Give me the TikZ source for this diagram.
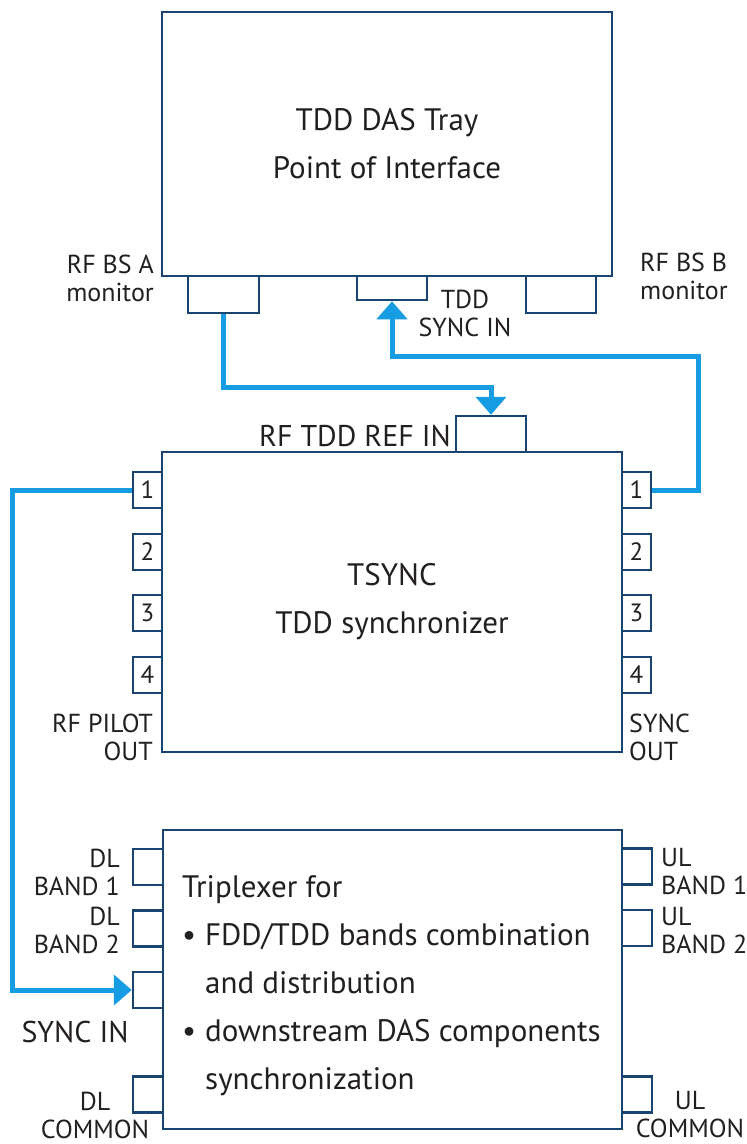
\documentclass[tikz,border=0pt]{standalone}
\usepackage{fontspec}
\setmainfont{PT Sans}
\definecolor{boxblue}{RGB}{24,68,112}
\definecolor{linkblue}{RGB}{22,156,226}
\definecolor{txtgray}{RGB}{35,31,32}
\usetikzlibrary{arrows.meta,positioning,calc}

\begin{document}
\begin{tikzpicture}[x=1pt, y=-1pt,
    unitbox/.style={rectangle, draw=boxblue, line width=2.5pt, fill=white,
                    inner sep=0pt, align=center, text=txtgray,
                    font=\fontsize{31}{48}\selectfont},
    port/.style={rectangle, draw=boxblue, line width=2.5pt, fill=white,
                 inner sep=0pt, text=txtgray, font=\fontsize{25}{26}\selectfont},
    sideport/.style={port, minimum width=29pt, minimum height=36pt},
    lbl/.style={inner sep=0pt, text=txtgray, font=\fontsize{26}{28}\selectfont},
    biglbl/.style={lbl, font=\fontsize{30}{34}\selectfont},
    link/.style={linkblue, line width=5pt,
                 -{Triangle[width=30pt, length=18pt]}}
  ]
    \useasboundingbox (0,0) rectangle (747,1144);

    % Tray / Point of Interface
    \node[unitbox, minimum width=450pt, minimum height=264pt] (poi) at (387,144)
      {TDD DAS Tray\\Point of Interface};
    \node[port, minimum width=71pt, minimum height=37pt] (bsA)     at (223.5,294.5) {};
    \node[port, minimum width=70pt, minimum height=24pt] (tddsync) at (392,288) {};
    \node[port, minimum width=70pt, minimum height=37pt] (bsB)     at (561,294.5) {};
    \node[lbl, align=right, anchor=east] (lbsA) at (154,278) {RF BS A\\monitor};
    \node[lbl, align=left,  anchor=west] (lbsB) at (640,276) {RF BS B\\monitor};
    \node[lbl, align=center] (lsync) at (465,313) {TDD\\SYNC IN};

    % TSYNC synchronizer
    \node[unitbox, minimum width=460pt, minimum height=300pt] (tsync) at (392,602)
      {TSYNC\\TDD synchronizer};
    \node[port, minimum width=70pt, minimum height=36pt] (refin) at (491,434) {};
    \node[biglbl, anchor=east] (lrefin) at (451,436) {RF TDD REF IN};
    \foreach \n/\y in {1/490, 2/552, 3/613, 4/675} {
      \node[sideport] (sL\n) at (147.5,\y) {\n};
      \node[sideport] (sR\n) at (636.5,\y) {\n};
    }
    \node[lbl, align=right, anchor=east] (lpilot) at (153,737) {RF PILOT\\OUT};
    \node[lbl, align=left,  anchor=west] (lsout)  at (629,737) {SYNC\\OUT};

    % Triplexer
    \node[unitbox, minimum width=459pt, minimum height=299pt] (trip) at (392.5,979.5) {};
    \node[inner sep=0pt, anchor=base west, align=left, text=txtgray,
          font=\fontsize{31}{48}\selectfont] (triptxt) at (182,1089)
      {Triplexer for\\
       \makebox[23pt][l]{\textbullet}FDD/TDD bands combination\\
       \hspace*{23pt}and distribution\\
       \makebox[23pt][l]{\textbullet}downstream DAS components\\
       \hspace*{23pt}synchronization};
    \node[sideport, minimum width=30pt] (dl1)   at (148,867)    {};
    \node[sideport, minimum width=30pt] (dl2)   at (148,928.5)  {};
    \node[sideport, minimum width=30pt] (tsin)  at (148,990)    {};
    \node[sideport, minimum width=30pt] (dlc)   at (148,1094.5) {};
    \node[sideport, minimum width=30pt] (ul1)   at (637,866.5)  {};
    \node[sideport, minimum width=30pt] (ul2)   at (637,928)    {};
    \node[sideport, minimum width=30pt] (ulc)   at (637,1094.5) {};
    \node[lbl, align=right, anchor=east] (ldl1) at (120,872)  {DL\\BAND 1};
    \node[lbl, align=right, anchor=east] (ldl2) at (120,930)  {DL\\BAND 2};
    \node[biglbl] (ltsin) at (75,1032) {SYNC IN};
    \node[lbl, align=center] (ldlc) at (95,1115) {DL\\COMMON};
    \node[lbl, align=left, anchor=west] (lul1) at (661,872) {UL\\BAND 1};
    \node[lbl, align=left, anchor=west] (lul2) at (661,931) {UL\\BAND 2};
    \node[lbl, align=center] (lulc) at (690,1115) {UL\\COMMON};

    % links
    \draw[link] (bsA.south) -- ++(0,73) -| (refin.north);
    \draw[link] (sR1.east) -| ++(46,-134) -| (tddsync.south);
    \draw[link] (sL1.west) -- ++(-119,0) |- (tsin.west);
  \end{tikzpicture}
\end{document}
